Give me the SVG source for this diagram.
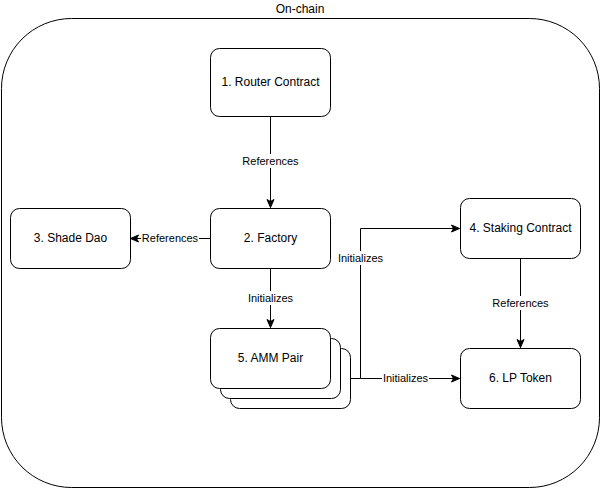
<svg xmlns="http://www.w3.org/2000/svg" width="601" height="489" viewBox="0 0 601 489">
  <style>
    .box { fill: #ffffff; stroke: #000000; stroke-width: 1; }
    .frame { fill: #ffffff; stroke: #000000; stroke-width: 1; }
    .node-text { font-family: "Liberation Sans", Arial, sans-serif; font-size: 12px; fill: #000000; text-anchor: middle; }
    .edge { fill: none; stroke: #000000; stroke-width: 1; }
    .lbl-bg { fill: #ffffff; }
    .lbl { font-family: "Liberation Sans", Arial, sans-serif; font-size: 11px; fill: #000000; text-anchor: middle; }
  </style>
  <defs>
    <marker id="arrow" markerUnits="userSpaceOnUse" markerWidth="10" markerHeight="10" viewBox="0 0 10 10" refX="9" refY="5" orient="auto">
      <path d="M1,1.5 L9,5 L1,8.5 L3,5 Z" fill="#000000" stroke="#000000" stroke-width="1"/>
    </marker>
  </defs>

  <rect width="601" height="489" fill="#ffffff"/>

  <!-- On-chain container -->
  <g id="on-chain">
    <rect class="frame" x="1.5" y="18.5" width="598" height="469" rx="70" ry="70"/>
    <text class="node-text" x="300" y="13">On-chain</text>
  </g>

  <!-- Connectors -->
  <g id="connectors">
    <path class="edge" d="M270.5,116.5 V207.5" marker-end="url(#arrow)"/>
    <path class="edge" d="M210.5,238.5 H130.5" marker-end="url(#arrow)"/>
    <path class="edge" d="M270.5,268.5 V327.5" marker-end="url(#arrow)"/>
    <path class="edge" d="M350.5,378.5 H360.5 V228.5 H459.5" marker-end="url(#arrow)"/>
    <path class="edge" d="M360.5,378.5 H459.5" marker-end="url(#arrow)"/>
    <path class="edge" d="M520.5,258.5 V347.5" marker-end="url(#arrow)"/>

    <rect class="lbl-bg" x="242" y="154" width="57" height="14"/>
    <text class="lbl" x="270.5" y="165">References</text>
    <rect class="lbl-bg" x="141" y="231" width="58" height="14"/>
    <text class="lbl" x="170" y="242">References</text>
    <rect class="lbl-bg" x="247" y="291" width="47" height="14"/>
    <text class="lbl" x="270.5" y="302">Initializes</text>
    <rect class="lbl-bg" x="337" y="251" width="47" height="14"/>
    <text class="lbl" x="360.5" y="262">Initializes</text>
    <rect class="lbl-bg" x="382" y="371" width="47" height="14"/>
    <text class="lbl" x="405.5" y="382">Initializes</text>
    <rect class="lbl-bg" x="492" y="296" width="57" height="14"/>
    <text class="lbl" x="520.5" y="307">References</text>
  </g>

  <g id="router-contract">
    <rect class="box" x="210.5" y="48.5" width="120" height="68" rx="9" ry="9"/>
    <text class="node-text" x="270.5" y="86">1. Router Contract</text>
  </g>

  <g id="factory">
    <rect class="box" x="210.5" y="208.5" width="120" height="60" rx="9" ry="9"/>
    <text class="node-text" x="270.5" y="242">2. Factory</text>
  </g>

  <g id="shade-dao">
    <rect class="box" x="10.5" y="208.5" width="120" height="60" rx="9" ry="9"/>
    <text class="node-text" x="70.5" y="242">3. Shade Dao</text>
  </g>

  <g id="staking-contract">
    <rect class="box" x="460.5" y="198.5" width="120" height="60" rx="9" ry="9"/>
    <text class="node-text" x="520.5" y="232">4. Staking Contract</text>
  </g>

  <g id="amm-pair">
    <rect class="box" x="230.5" y="348.5" width="120" height="60" rx="9" ry="9"/>
    <rect class="box" x="220.5" y="338.5" width="120" height="60" rx="9" ry="9"/>
    <rect class="box" x="210.5" y="328.5" width="120" height="60" rx="9" ry="9"/>
    <text class="node-text" x="270.5" y="362">5. AMM Pair</text>
  </g>

  <g id="lp-token">
    <rect class="box" x="460.5" y="348.5" width="120" height="60" rx="9" ry="9"/>
    <text class="node-text" x="520.5" y="382">6. LP Token</text>
  </g>
</svg>
